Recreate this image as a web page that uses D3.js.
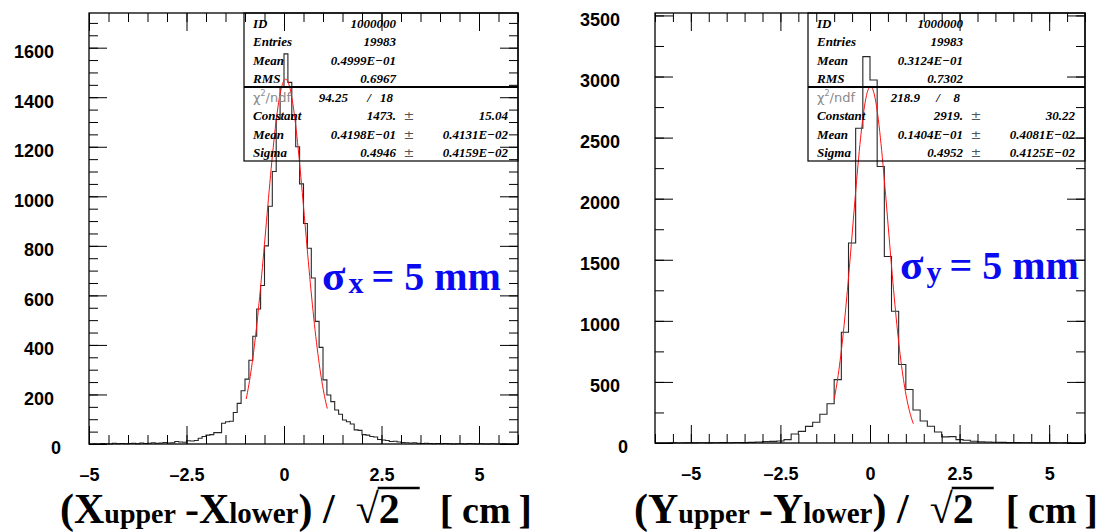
<!DOCTYPE html>
<html>
<head>
<meta charset="utf-8">
<script src="https://cdn.jsdelivr.net/npm/d3@7/dist/d3.min.js"></script>
<style>
  body { margin: 0; background: #fff; }
  svg { display: block; }
</style>
</head>
<body>
<div id="chart"></div>
<script>
// ---- data ----

// (Xupper - Xlower)/sqrt2 : 0.1 cm bins, first bin starts at -5.0
var xBinStart = -5.0, xBinWidth = 0.1;
var xCounts = [
  0, 1, 0, 2, 1, 0, 3, 1, 2, 1,
  2, 3, 1, 4, 2, 3, 5, 3, 4, 6,
  4, 5, 10, 8, 7, 13, 12, 14, 23, 30,
  36, 38, 46, 46, 84, 90, 92, 127, 164, 215,
  262, 338, 435, 545, 640, 800, 960, 1100, 1310, 1440,
  1575, 1460, 1310, 1200, 1050, 890, 790, 670, 495, 390,
  259, 198, 171, 137, 120, 97, 90, 81, 57, 55,
  38, 36, 30, 28, 18, 16, 14, 10, 11, 8,
  6, 5, 4, 5, 3, 2, 3, 2, 1, 2,
  1, 2, 1, 0, 1, 1, 0, 2, 1, 0,
  1, 0, 0, 1, 0, 0, 1, 0, 0, 0
];

// (Yupper - Ylower)/sqrt2 : 0.2 cm bins, first bin starts at -6.0
var yBinStart = -6.0, yBinWidth = 0.2;
var yCounts = [
  0, 0, 1, 0, 1, 1, 2, 1, 2, 3,
  2, 4, 3, 5, 8, 12, 13, 16, 28, 74,
  95, 136, 170, 235, 321, 519, 906, 1637, 2577, 3163,
  2972, 2263, 1527, 1078, 642, 438, 270, 180, 137, 90,
  50, 52, 28, 22, 14, 10, 8, 6, 5, 3,
  3, 2, 2, 1, 1, 1, 0, 1, 0, 0
];

// axis ticks
var xTickLabels = [-5, -2.5, 0, 2.5, 5];
var xLeftYTicks = [0, 200, 400, 600, 800, 1000, 1200, 1400, 1600];
var yRightYTicks = [0, 500, 1000, 1500, 2000, 2500, 3000, 3500];

// statistics boxes
var statNames = ["ID", "Entries", "Mean", "RMS"];
var fitNames = ["Constant", "Mean", "Sigma"];
var xStats = ["1000000", "19983", "0.4999E\u221201", "0.6967"];
var xChi2 = ["94.25", "18"];
var xFitVals = ["1473.", "0.4198E\u221201", "0.4946"];
var xFitErrs = ["15.04", "0.4131E\u221202", "0.4159E\u221202"];
var xFitRange = [-0.97, 1.11];
var yStats = ["1000000", "19983", "0.3124E\u221201", "0.7302"];
var yChi2 = ["218.9", "8"];
var yFitVals = ["2919.", "0.1404E\u221201", "0.4952"];
var yFitErrs = ["30.22", "0.4081E\u221202", "0.4125E\u221202"];
var yFitRange = [-1.0, 1.21];

var width = 1098, height = 532;

var svg = d3.select("#chart").append("svg")
    .attr("width", width)
    .attr("height", height);

function num(s) { return +s.replace("\u2212", "-"); }
function tickFmt(d) { return d3.format("")(d).replace("\u2212", "\u2013"); }

function drawPanel(p) {
  var x = d3.scaleLinear().domain(p.xDomain).range([p.left, p.right]);
  var y = d3.scaleLinear().domain([0, p.yMax]).range([p.bottom, p.top]);
  var g = svg.append("g");

  // histogram outline
  var pts = [[p.binStart, 0]];
  p.counts.forEach(function(c, i) {
    var x0 = p.binStart + i * p.binWidth;
    pts.push([x0, c], [x0 + p.binWidth, c]);
  });
  g.append("path")
      .datum(pts)
      .attr("fill", "none")
      .attr("stroke", "#262626")
      .attr("stroke-width", 1.1)
      .attr("d", d3.line().x(function(d) { return x(d[0]); }).y(function(d) { return y(d[1]); }));

  // gaussian fit from the box parameters
  var par = p.fitVals.map(num);
  var fitPts = d3.range(121).map(function(i) {
    var v = p.fitRange[0] + i * (p.fitRange[1] - p.fitRange[0]) / 120;
    return [v, par[0] * Math.exp(-0.5 * Math.pow((v - par[1]) / par[2], 2))];
  });
  g.append("path")
      .datum(fitPts)
      .attr("fill", "none")
      .attr("stroke", "#ff1010")
      .attr("stroke-width", 1)
      .attr("d", d3.line().x(function(d) { return x(d[0]); }).y(function(d) { return y(d[1]); }));

  // ticks: major and minor, on all four sides, pointing inwards
  var xMinor = d3.range(p.xDomain[0], p.xDomain[1] + 0.001, 0.5);
  var yMinor = d3.range(0, p.yMax, p.yMinorStep);
  function side(axis, tx, ty) {
    var a = g.append("g").attr("transform", "translate(" + tx + "," + ty + ")").call(axis);
    a.select(".domain").remove();
    a.selectAll("line").attr("stroke", "#000").attr("stroke-width", 1);
    return a;
  }
  side(d3.axisBottom(x).tickValues(xMinor).tickSizeInner(-9).tickSizeOuter(0).tickFormat(""), 0, p.bottom);
  side(d3.axisTop(x).tickValues(xMinor).tickSizeInner(-9).tickSizeOuter(0).tickFormat(""), 0, p.top);
  side(d3.axisTop(x).tickValues(xTickLabels).tickSizeInner(-18).tickSizeOuter(0).tickFormat(""), 0, p.top);
  var bx = side(d3.axisBottom(x).tickValues(xTickLabels).tickSizeInner(-18).tickSizeOuter(0)
      .tickPadding(24).tickFormat(tickFmt), 0, p.bottom);
  bx.selectAll("text")
      .attr("font-family", "Liberation Sans, Arial, sans-serif")
      .attr("font-weight", "bold")
      .attr("font-size", 18)
      .attr("fill", "#000");

  side(d3.axisLeft(y).tickValues(yMinor).tickSizeInner(-9).tickSizeOuter(0).tickFormat(""), p.left, 0);
  side(d3.axisRight(y).tickValues(yMinor).tickSizeInner(-9).tickSizeOuter(0).tickFormat(""), p.right, 0);
  side(d3.axisRight(y).tickValues(p.yTicks).tickSizeInner(-18).tickSizeOuter(0).tickFormat(""), p.right, 0);
  var ly = side(d3.axisLeft(y).tickValues(p.yTicks).tickSizeInner(-18).tickSizeOuter(0)
      .tickPadding(p.yLabelPad).tickFormat(d3.format("d")), p.left, 0);
  ly.selectAll("text")
      .attr("font-family", "Liberation Sans, Arial, sans-serif")
      .attr("font-weight", "bold")
      .attr("font-size", 18)
      .attr("fill", "#000")
      .attr("dy", "0.55em")
      .attr("dx", function(d) { return d === 0 ? p.zeroShift : 0; });

  // frame
  g.append("rect")
      .attr("x", p.left).attr("y", p.top)
      .attr("width", p.right - p.left).attr("height", p.bottom - p.top)
      .attr("fill", "none").attr("stroke", "#000").attr("stroke-width", 1.3);

  // statistics box
  var bl = p.boxLeft, rowH = 18.5;
  var rowY = function(i) { return p.top + rowH * (i + 0.5) + 5.7; };
  g.append("rect")
      .attr("x", bl).attr("y", p.top)
      .attr("width", p.right - bl).attr("height", rowH * 8)
      .attr("fill", "none").attr("stroke", "#000").attr("stroke-width", 1.2);
  g.append("line")
      .attr("x1", bl).attr("x2", p.right)
      .attr("y1", p.top + rowH * 4).attr("y2", p.top + rowH * 4)
      .attr("stroke", "#000").attr("stroke-width", 2);

  function boxText(str, xx, i, anchor) {
    return g.append("text")
        .attr("x", xx).attr("y", rowY(i))
        .attr("text-anchor", anchor || "start")
        .attr("font-family", "Liberation Serif, Times New Roman, serif")
        .attr("font-style", "italic")
        .attr("font-weight", "bold")
        .attr("font-size", 13)
        .attr("fill", "#000")
        .text(str);
  }
  statNames.forEach(function(s, i) {
    boxText(s, bl + 9, i);
    boxText(p.stats[i], bl + p.valEnd, i, "end");
  });
  // chi2 / ndf row
  var chi = g.append("text")
      .attr("x", bl + 9).attr("y", rowY(4))
      .attr("font-family", "DejaVu Sans, sans-serif")
      .attr("font-size", 13)
      .attr("fill", "#8a8a8a");
  chi.append("tspan").text("\u03c7");
  chi.append("tspan").attr("font-size", 8).attr("dy", -6).text("2");
  chi.append("tspan").attr("dy", 6).text("/ndf");
  boxText(p.chi2[0], bl + p.chiVal, 4, "end");
  boxText("/", bl + p.chiSlash, 4, "middle");
  boxText(p.chi2[1], bl + p.valEnd - 3, 4, "end");
  fitNames.forEach(function(s, i) {
    boxText(s, bl + 9, i + 5);
    boxText(p.fitVals[i], bl + p.valEnd, i + 5, "end");
    g.append("text")
        .attr("x", bl + p.valEnd + 13).attr("y", rowY(i + 5))
        .attr("text-anchor", "middle")
        .attr("font-family", "DejaVu Sans, sans-serif")
        .attr("font-size", 13)
        .attr("fill", "#555")
        .text("\u00b1");
    boxText(p.fitErrs[i], p.right - 10, i + 5, "end");
  });
}

// lay out a run of text pieces one after another, returns their positions
function textRun(pieces, x0, base, color) {
  var cx = x0;
  pieces.forEach(function(pc) {
    var t = svg.append("text")
        .attr("x", cx).attr("y", base + (pc.dy || 0))
        .attr("font-family", "Liberation Serif, Times New Roman, serif")
        .attr("font-weight", "bold")
        .attr("font-size", pc.size)
        .attr("fill", color)
        .style("white-space", "pre")
        .text(pc.t);
    pc.x = cx;
    pc.w = t.node().getComputedTextLength();
    cx += pc.w + (pc.gap || 0);
  });
  return pieces;
}

function axisTitle(letter, x0, base, gapTwo) {
  var big = 42, small = 28;
  var pcs = textRun([
    { t: "(", size: big },
    { t: letter, size: big },
    { t: "upper", size: small, gap: 9 },
    { t: "-" + letter, size: big },
    { t: "lower", size: small + 1 },
    { t: ") /  ", size: big },
    { t: "\u221a", size: big },
    { t: "2", size: big, gap: gapTwo },
    { t: "[", size: 40, gap: 9 },
    { t: "cm", size: 38, gap: 8 },
    { t: "]", size: 40 }
  ], x0, base, "#000");
  var r = pcs[6], two = pcs[7];
  svg.append("line")
      .attr("x1", r.x + r.w - 1).attr("x2", two.x + two.w + 20)
      .attr("y1", base - 35).attr("y2", base - 35)
      .attr("stroke", "#000").attr("stroke-width", 2.5);
}

function sigmaLabel(sub, x0, base) {
  textRun([
    { t: "\u03c3", size: 43, gap: 3 },
    { t: sub, size: 30, dy: 3, gap: 8 },
    { t: "= 5 mm", size: 40 }
  ], x0, base, "#0a0af0");
}

drawPanel({
  left: 89, right: 518, top: 13, bottom: 444,
  xDomain: [-5, 6], yMax: 1740, yMinorStep: 50, yTicks: xLeftYTicks,
  yLabelPad: 35, zeroShift: 7,
  binStart: xBinStart, binWidth: xBinWidth, counts: xCounts,
  fitVals: xFitVals, fitErrs: xFitErrs, fitRange: xFitRange,
  stats: xStats, chi2: xChi2,
  boxLeft: 244, valEnd: 152, chiVal: 104, chiSlash: 125
});

drawPanel({
  left: 655, right: 1085, top: 13, bottom: 443,
  xDomain: [-6, 6], yMax: 3520, yMinorStep: 250, yTicks: yRightYTicks,
  yLabelPad: 35, zeroShift: 8,
  binStart: yBinStart, binWidth: yBinWidth, counts: yCounts,
  fitVals: yFitVals, fitErrs: yFitErrs, fitRange: yFitRange,
  stats: yStats, chi2: yChi2,
  boxLeft: 808, valEnd: 155, chiVal: 112, chiSlash: 130
});

axisTitle("X", 60, 523, 40);
axisTitle("Y", 634, 523, 32);
sigmaLabel("x", 322, 290);
sigmaLabel("y", 900, 279);
</script>
</body>
</html>
